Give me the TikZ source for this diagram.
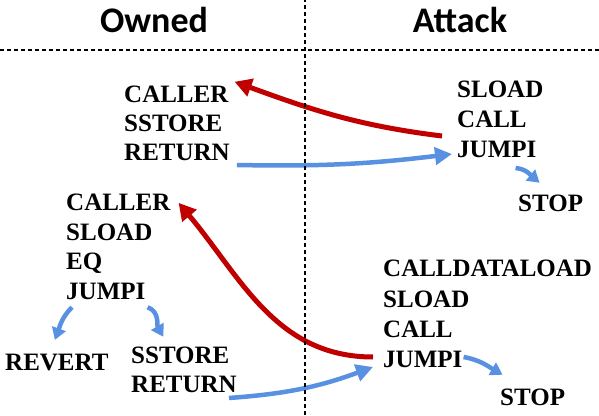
\documentclass[tikz,border=0pt]{standalone}
\usepackage{fontspec}
\setmainfont{Liberation Serif}
\newfontfamily\headfont{Carlito}
\usepackage{tikz}
\usetikzlibrary{arrows.meta, calc}
\definecolor{cRed}{RGB}{192,0,0}
\definecolor{cBlue}{RGB}{88,145,225}
\tikzset{
	opcode/.style={anchor=base west, inner sep=0pt, font=\fontsize{25}{29}\selectfont\bfseries},
	header/.style={anchor=base, inner sep=0pt, font=\headfont\fontsize{36}{40}\selectfont\bfseries},
	divider/.style={line width=1.4pt, dash pattern=on 4pt off 3pt},
	flowred/.style={-{Triangle[length=17pt, width=18pt]}, line width=5pt, draw=cRed},
	flowblue/.style={-{Triangle[length=17pt, width=17pt]}, line width=4.5pt, draw=cBlue},
	branch/.style={-{Triangle[length=12pt, width=14pt]}, line width=4.5pt, draw=cBlue},
}
\begin{document}
\begin{tikzpicture}[x=1pt, y=1pt]
	\useasboundingbox (0,0) rectangle (599,415);
	% column headers
	\node[header] (hown) at (154,382) {Owned};
	\node[header] (hatk) at (460,382) {Attack};
	% first round
	\foreach \nm/\txt [count=\i from 0] in {caller/CALLER, sstore/SSTORE, return/RETURN}
		\node[opcode] (o1\nm) at (124, 312-\i*29) {\txt};
	\foreach \nm/\txt [count=\i from 0] in {sload/SLOAD, call/CALL, jumpi/JUMPI}
		\node[opcode] (a1\nm) at (457, 317-\i*30) {\txt};
	\node[opcode] (a1stop) at (518,203) {STOP};
	% second round
	\foreach \nm/\txt [count=\i from 0] in {caller/CALLER, sload/SLOAD, eq/EQ, jumpi/JUMPI}
		\node[opcode] (o2\nm) at (66, 204-\i*29.4) {\txt};
	\node[opcode] (o2revert) at (5,45) {REVERT};
	\node[opcode] (o2sstore) at (131,52) {SSTORE};
	\node[opcode] (o2return) at (131,23) {RETURN};
	\foreach \nm/\txt [count=\i from 0] in {cdl/CALLDATALOAD, sload/SLOAD, call/CALL, jumpi/JUMPI}
		\node[opcode] (a2\nm) at (383, 138-\i*30) {\txt};
	\node[opcode] (a2stop) at (500,10) {STOP};
	% control flow
	\draw[flowred] ($(a1jumpi.base west)+(-15,22)$) to[out=173, in=-20] ($(o1caller.north east)+(6,4.5)$);
	\draw[flowblue] ($(o1return.base east)+(7,-4)$) to[bend right=4] ($(a1jumpi.base west)+(-5,4)$);
	\draw[branch] ($(a1jumpi.base east)+(-21,-10)$) to[out=-5, in=140] ($(a1stop.north)+(-11,12.5)$);
	\draw[flowred] ($(a2jumpi.base west)+(-10,10)$) to[out=180, in=-50] ($(o2caller.east)+(8,0)$);
	\draw[flowblue] ($(o2return.base east)+(-8,-6)$) to[bend right=8] ($(a2jumpi.base west)+(-10,0)$);
	\draw[branch] ($(a2jumpi.base east)+(1,10)$) to[out=-10, in=150] ($(a2stop.north)+(-30,13.5)$);
	\draw[branch] ($(o2jumpi.base west)+(6,-8)$) to[out=-135, in=70] ($(o2revert.north)+(-2,13.5)$);
	\draw[branch] ($(o2jumpi.base east)+(2,-8)$) to[out=-20, in=120] ($(o2sstore.north)+(-17,9.5)$);
	% dividers
	\draw[divider] (0,365) -- (599,365);
	\draw[divider] (305,0) -- (305,415);
\end{tikzpicture}
\end{document}
